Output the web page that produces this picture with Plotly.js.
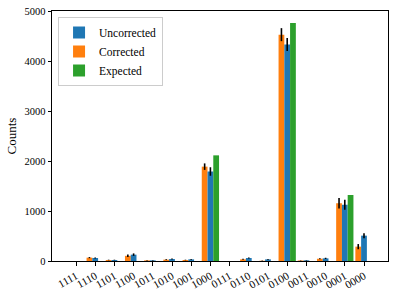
<!DOCTYPE html>
<html><head><meta charset="utf-8">
<script src="https://cdn.plot.ly/plotly-3.0.1.min.js"></script>
<style>html,body{margin:0;padding:0;background:#fff;}#c{width:395px;height:296px;}</style>
</head><body><div id="c"></div>
<script>
const categories = ["1111","1110","1101","1100","1011","1010","1001","1000","0111","0110","0101","0100","0011","0010","0001","0000"];
const uncorrected = [0, 60, 20, 127, 13, 40, 33, 1790, 0, 60, 33, 4330, 13, 53, 1125, 507];
const uncorrectedErr = [0, 12, 6, 25, 5, 10, 8, 85, 0, 12, 8, 130, 5, 12, 100, 50];
const corrected = [0, 67, 20, 103, 13, 27, 20, 1887, 0, 33, 5, 4527, 10, 45, 1155, 287];
const correctedErr = [0, 12, 6, 25, 5, 8, 6, 65, 0, 10, 4, 130, 4, 12, 105, 52];
const expected = [0, 0, 0, 0, 0, 0, 0, 2113, 0, 0, 0, 4760, 0, 0, 1320, 0];

const font = "Liberation Serif, DejaVu Serif, serif";
const errStyle = {type: "data", visible: true, color: "#000", thickness: 1.6, width: 0};
const traces = [
  {type: "bar", name: "Corrected", x: categories, y: corrected,
   error_y: Object.assign({array: correctedErr}, errStyle),
   marker: {color: "#ff7f0e"}, legendrank: 2},
  {type: "bar", name: "Uncorrected", x: categories, y: uncorrected,
   error_y: Object.assign({array: uncorrectedErr}, errStyle),
   marker: {color: "#1f77b4"}, legendrank: 1},
  {type: "bar", name: "Expected", x: categories, y: expected,
   marker: {color: "#2ca02c"}, legendrank: 3}
];
const layout = {
  width: 395, height: 296,
  margin: {l: 52, r: 7, t: 11, b: 35},
  paper_bgcolor: "#fff", plot_bgcolor: "#fff",
  barmode: "group", bargap: 0.1, bargroupgap: 0,
  font: {family: font, size: 10, color: "#000"},
  showlegend: true,
  legend: {x: 0.018, y: 0.976, xanchor: "left", yanchor: "top",
           bgcolor: "rgba(255,255,255,0.8)", bordercolor: "#ccc", borderwidth: 1,
           font: {family: font, size: 11.5}, tracegroupgap: 0, itemwidth: 30},
  xaxis: {type: "category", range: [-1.25, 16.25], tickangle: -30,
          showline: true, mirror: true, linecolor: "#000", linewidth: 1,
          ticks: "outside", ticklen: 3.5, tickcolor: "#000", showgrid: false,
          tickfont: {family: font, size: 11}, zeroline: false},
  yaxis: {range: [0, 5000], tickvals: [0, 1000, 2000, 3000, 4000, 5000],
          showline: true, mirror: true, linecolor: "#000", linewidth: 1,
          ticks: "outside", ticklen: 3.5, tickcolor: "#000", showgrid: false,
          zeroline: false, tickfont: {family: font, size: 10.5},
          title: {text: "Counts", font: {family: font, size: 13}, standoff: 4}}
};
Plotly.newPlot("c", traces, layout, {staticPlot: true, displayModeBar: false});
</script></body></html>
